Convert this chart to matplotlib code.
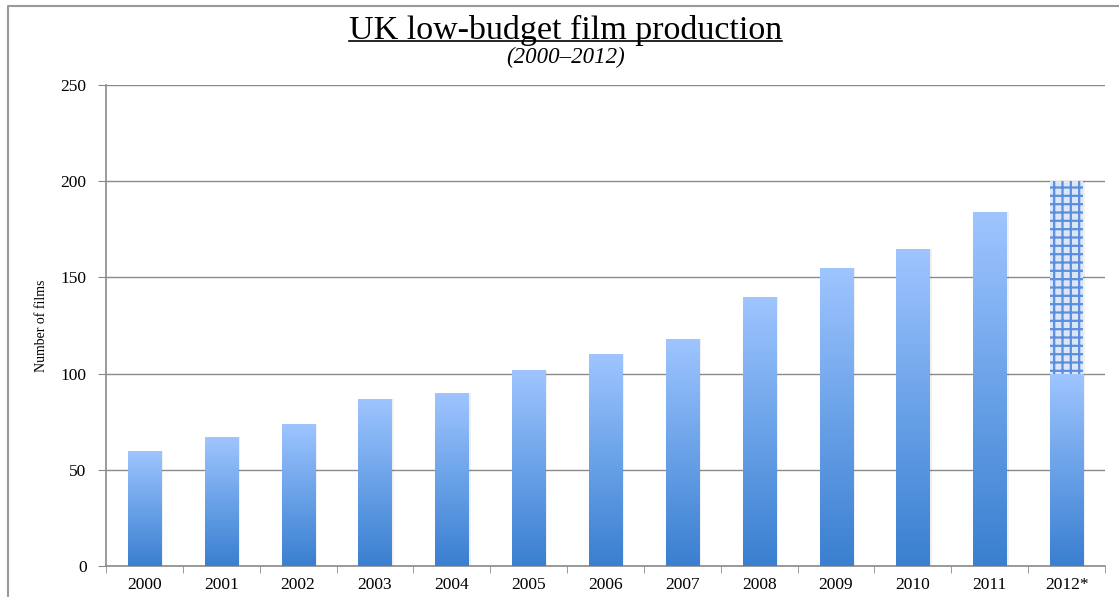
import matplotlib
matplotlib.use("Agg")
import matplotlib.pyplot as plt
import numpy as np
from matplotlib.colors import LinearSegmentedColormap
from matplotlib.lines import Line2D
from matplotlib.patches import Rectangle

years = ["2000", "2001", "2002", "2003", "2004", "2005", "2006",
         "2007", "2008", "2009", "2010", "2011", "2012*"]
films = [60, 67, 74, 87, 90, 102, 110, 118, 140, 155, 165, 184, 100]
projected = [0, 0, 0, 0, 0, 0, 0, 0, 0, 0, 0, 0, 100]
yticks = [0, 50, 100, 150, 200, 250]

plt.rcParams['font.family'] = ['Liberation Serif', 'DejaVu Serif']
plt.rcParams['hatch.linewidth'] = 1.6
plt.rcParams['hatch.color'] = '#5a8fe0'

fig = plt.figure(figsize=(11.19, 5.97), dpi=100)
ax = fig.add_axes([0.0947, 0.0519, 0.8928, 0.8057])

cmap = LinearSegmentedColormap.from_list("g", ["#3a7fd0", "#6aa2e8", "#9fc5ff"])
grad = np.linspace(0, 1, 256).reshape(-1, 1)
width = 0.43
x = np.arange(len(years))

bars = ax.bar(x, films, width=width, color='none', edgecolor='none', zorder=3)
for rect in bars:
    bx, bw, bh = rect.get_x(), rect.get_width(), rect.get_height()
    ax.add_patch(Rectangle((bx + 0.03, 0), bw, bh, facecolor='#000000',
                           alpha=0.06, edgecolor='none', zorder=2))
    im = ax.imshow(grad, cmap=cmap, origin='lower', aspect='auto',
                   extent=[bx, bx + bw, 0, bh], zorder=3)
    im.set_clip_path(rect)

pb = ax.bar(x, projected, bottom=films, width=width, facecolor='#dde6f4',
            edgecolor='#5a8fe0', linewidth=0, hatch='++', zorder=3)
for rect in pb:
    if rect.get_height() > 0:
        ax.add_patch(Rectangle((rect.get_x() + 0.03, rect.get_y()), rect.get_width(),
                               rect.get_height(), facecolor='#000000', alpha=0.06,
                               edgecolor='none', zorder=2))

ax.set_xlim(-0.5, len(years) - 0.5)
ax.set_ylim(0, 250)
ax.set_yticks(yticks)
ax.set_yticklabels([str(v) for v in yticks], fontsize=12.5)
ax.yaxis.grid(True, color='#8a8a8a', linewidth=1.0, zorder=0)
ax.set_axisbelow(True)

ax.set_xticks(x)
ax.set_xticklabels(years, fontsize=12.5)
ax.set_xticks(np.arange(-0.5, len(years) + 0.5, 1), minor=True)
ax.tick_params(axis='x', which='major', length=0, pad=8)
ax.tick_params(axis='x', which='minor', length=5, color='#8a8a8a', direction='out')
ax.tick_params(axis='y', length=6, color='#8a8a8a', direction='out', pad=8)

for s in ['top', 'right']:
    ax.spines[s].set_visible(False)
for s in ['left', 'bottom']:
    ax.spines[s].set_color('#8a8a8a')
    ax.spines[s].set_linewidth(1.2)

ax.set_ylabel("Number of films", fontsize=10, labelpad=9)

t = fig.text(0.5054, 0.949, "UK low-budget film production", ha='center',
             va='center', fontsize=24.5)
fig.text(0.5054, 0.903, "(2000\u20132012)", ha='center', va='center',
         fontsize=16.5, style='italic')

fig.canvas.draw()
bb = t.get_window_extent().transformed(fig.transFigure.inverted())
fig.add_artist(Line2D([bb.x0, bb.x1], [bb.y0 + 0.008, bb.y0 + 0.008],
                      transform=fig.transFigure, color='black', linewidth=1.2))

fig.add_artist(Line2D([0.0075, 0.0075, 1.0], [0.0, 0.99, 0.99],
                      transform=fig.transFigure, color='#999999', linewidth=1.5))

fig.savefig("out.png", dpi=100)
